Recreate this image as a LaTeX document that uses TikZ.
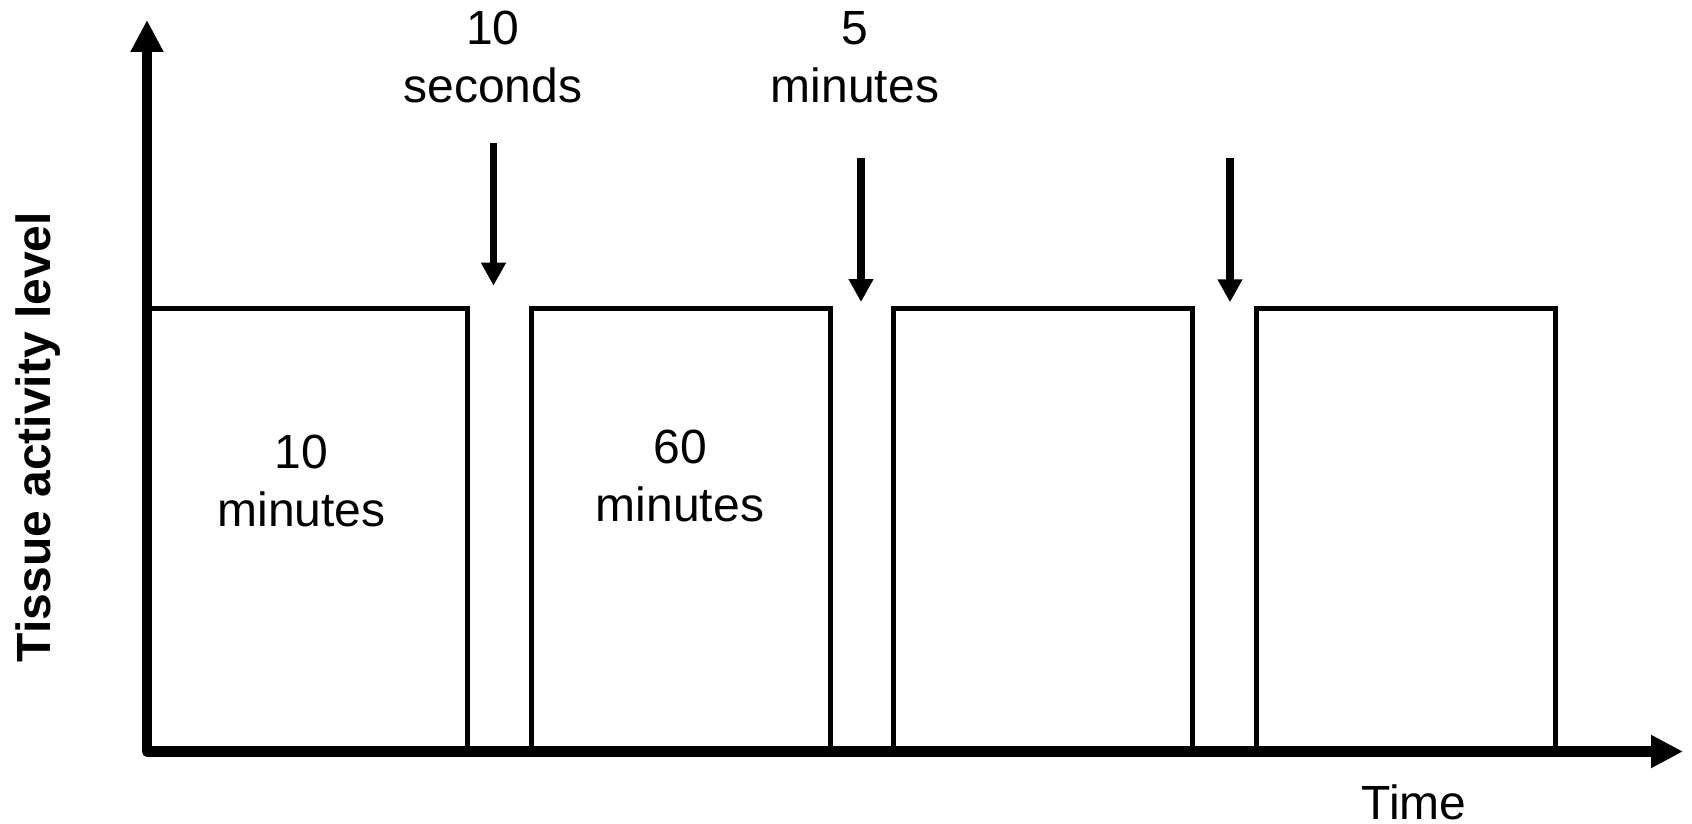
\documentclass[tikz,border=0pt]{standalone}
\usepackage{fontspec}
\setmainfont{Liberation Sans}
\usetikzlibrary{arrows.meta}
\begin{document}
\begin{tikzpicture}[x=0.5pt,y=-0.5pt,
  lbl/.style={font=\fontsize{24}{29}\selectfont, align=center, inner sep=0pt, anchor=base},
  axislbl/.style={font=\fontsize{24}{29}\selectfont\bfseries, inner sep=0pt, anchor=base, rotate=90},
  axisline/.style={line width=5.3pt, line join=round, {Triangle[length=16pt,width=15.5pt]}-{Triangle[length=16pt,width=15.5pt]}},
  bar/.style={line width=2.5pt, line join=miter},
  cue/.style={line width=3.75pt, -{Triangle[length=11.5pt,width=11.75pt]}}]
\useasboundingbox (0,0) rectangle (1692,824);
% bars
\draw[bar] (147,751.5) rectangle (467,308.6);
\draw[bar] (531,751.5) rectangle (830,308.6);
\draw[bar] (893.5,751.5) rectangle (1192.5,308.6);
\draw[bar] (1256,751.5) rectangle (1555,308.6);
% axes
\coordinate (ytop) at (147,20);
\coordinate (O) at (147,751.5);
\coordinate (xend) at (1683,751.5);
\draw[axisline] (ytop) -- (O) -- (xend);
% labels
\node[axislbl] (ylab) at (50,437) {Tissue activity level};
\node[lbl] (xlab) at (1414,819) {Time};
\node[lbl] (l1) at (493,102.3) {10\\seconds};
\node[lbl] (l2) at (855,102.3) {5\\minutes};
\node[lbl] (b1) at (301.5,526.3) {10\\minutes};
\node[lbl] (b2) at (680,521) {60\\minutes};
% cues
\coordinate (a1s) at (493.5,142.7); \coordinate (a1e) at (493.5,285.7);
\coordinate (a2s) at (861,158.5);   \coordinate (a2e) at (861,302);
\coordinate (a3s) at (1230,158.3);  \coordinate (a3e) at (1230,302.3);
\draw[cue] (a1s) -- (a1e);
\draw[cue] (a2s) -- (a2e);
\draw[cue] (a3s) -- (a3e);
\end{tikzpicture}
\end{document}
